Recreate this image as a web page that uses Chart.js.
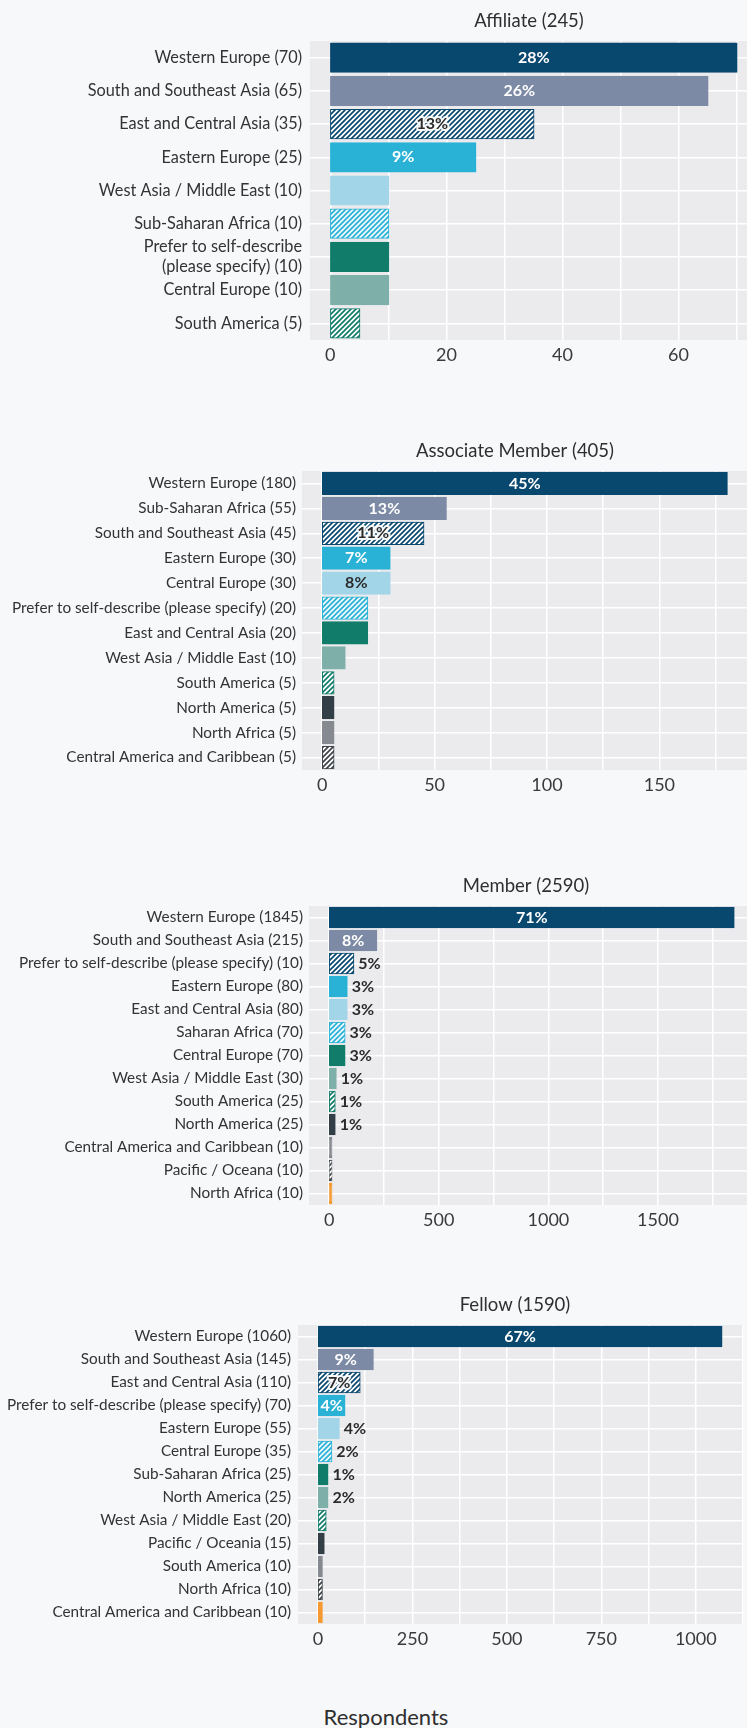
<!DOCTYPE html>
<html>
<head>
<meta charset="utf-8">
<script src="https://cdn.jsdelivr.net/npm/chart.js@4.4.0/dist/chart.umd.min.js"></script>
<style>
  body { margin: 0; background: #f7f8fa; width: 747px; height: 1728px; position: relative; overflow: hidden; font-family: Lato, sans-serif; }
  .panel { position: absolute; left: 0; }
  #xtitle { position: absolute; top: 1704px; left: 386px; transform: translateX(-50%); font-size: 22px; line-height: 26px; color: #2f2f2f; white-space: nowrap; }
</style>
</head>
<body>
<canvas id="affiliate" class="panel" width="747" height="380" style="top:0px"></canvas>
<canvas id="associate" class="panel" width="747" height="380" style="top:430px"></canvas>
<canvas id="member" class="panel" width="747" height="380" style="top:865px"></canvas>
<canvas id="fellow" class="panel" width="747" height="380" style="top:1284px"></canvas>
<div id="xtitle">Respondents</div>
<script>
// data
const affiliateTitle = 'Affiliate (245)';
const affiliateLabels = ['Western Europe (70)', 'South and Southeast Asia (65)', 'East and Central Asia (35)', 'Eastern Europe (25)',
  'West Asia / Middle East (10)', 'Sub-Saharan Africa (10)', ['Prefer to self-describe', '(please specify) (10)'],
  'Central Europe (10)', 'South America (5)'];
const affiliateValues = [70, 65, 35, 25, 10, 10, 10, 10, 5];
const affiliatePct = ['28%', '26%', '13%', '9%', '', '', '', '', ''];

const associateTitle = 'Associate Member (405)';
const associateLabels = ['Western Europe (180)', 'Sub-Saharan Africa (55)', 'South and Southeast Asia (45)', 'Eastern Europe (30)',
  'Central Europe (30)', 'Prefer to self-describe (please specify) (20)', 'East and Central Asia (20)', 'West Asia / Middle East (10)',
  'South America (5)', 'North America (5)', 'North Africa (5)', 'Central America and Caribbean (5)'];
const associateValues = [180, 55, 45, 30, 30, 20, 20, 10, 5, 5, 5, 5];
const associatePct = ['45%', '13%', '11%', '7%', '8%', '', '', '', '', '', '', ''];

const memberTitle = 'Member (2590)';
const memberLabels = ['Western Europe (1845)', 'South and Southeast Asia (215)', 'Prefer to self-describe (please specify) (10)',
  'Eastern Europe (80)', 'East and Central Asia (80)', 'Saharan Africa (70)', 'Central Europe (70)', 'West Asia / Middle East (30)',
  'South America (25)', 'North America (25)', 'Central America and Caribbean (10)', 'Pacific / Oceana (10)', 'North Africa (10)'];
const memberValues = [1845, 215, 110, 80, 80, 70, 70, 30, 25, 25, 10, 10, 10];
const memberPct = ['71%', '8%', '5%', '3%', '3%', '3%', '3%', '1%', '1%', '1%', '', '', ''];

const fellowTitle = 'Fellow (1590)';
const fellowLabels = ['Western Europe (1060)', 'South and Southeast Asia (145)', 'East and Central Asia (110)',
  'Prefer to self-describe (please specify) (70)', 'Eastern Europe (55)', 'Central Europe (35)', 'Sub-Saharan Africa (25)',
  'North America (25)', 'West Asia / Middle East (20)', 'Pacific / Oceania (15)', 'South America (10)', 'North Africa (10)',
  'Central America and Caribbean (10)'];
const fellowValues = [1068, 145, 110, 70, 55, 35, 25, 25, 20, 15, 10, 10, 10];
const fellowPct = ['67%', '9%', '7%', '4%', '4%', '2%', '1%', '2%', '', '', '', '', ''];

// bar look by rank
const barStyles = [
  { fill: '#08476e' },
  { fill: '#7d8aa5' },
  { hatch: '#08476e', base: '#ffffff' },
  { fill: '#29b2d6' },
  { fill: '#a3d5e8', dark: true },
  { hatch: '#29b2d6', base: '#eef8fc' },
  { fill: '#117c6a' },
  { fill: '#7eb0a9' },
  { hatch: '#117c6a', base: '#ffffff' },
  { fill: '#323f46' },
  { fill: '#868a90' },
  { hatch: '#3d4247', base: '#ffffff' },
  { fill: '#f59a32' }
];

function hatch(color, base) {
  const c = document.createElement('canvas');
  c.width = 5; c.height = 5;
  const g = c.getContext('2d');
  g.fillStyle = base;
  g.fillRect(0, 0, 5, 5);
  g.strokeStyle = color;
  g.lineWidth = 1.7;
  g.beginPath();
  g.moveTo(-1, 6); g.lineTo(6, -1);
  g.moveTo(-1, 1); g.lineTo(1, -1);
  g.moveTo(4, 6); g.lineTo(6, 4);
  g.stroke();
  return g.createPattern(c, 'repeat');
}

const fills = barStyles.map(s => s.hatch ? hatch(s.hatch, s.base) : s.fill);
const borders = barStyles.map(s => s.hatch || s.fill);

const plotBg = {
  id: 'plotBg',
  beforeDraw(chart) {
    const { ctx, chartArea: a } = chart;
    ctx.save();
    ctx.fillStyle = '#ebebee';
    ctx.fillRect(a.left, a.top, a.right - a.left, a.bottom - a.top);
    ctx.restore();
  }
};

const panelTitle = {
  id: 'panelTitle',
  afterDraw(chart, args, o) {
    const ctx = chart.ctx;
    ctx.save();
    ctx.font = '18.5px Lato';
    ctx.fillStyle = '#2f2f2f';
    ctx.textAlign = 'center';
    ctx.textBaseline = 'middle';
    ctx.fillText(o.text, o.x, o.y);
    ctx.restore();
  }
};

const pctLabels = {
  id: 'pctLabels',
  afterDatasetsDraw(chart, args, o) {
    const ctx = chart.ctx;
    const meta = chart.getDatasetMeta(0);
    ctx.save();
    ctx.font = 'bold 16px Lato';
    ctx.textBaseline = 'middle';
    meta.data.forEach((bar, i) => {
      const txt = o.texts[i];
      if (!txt) return;
      const w = ctx.measureText(txt).width;
      const len = bar.x - bar.base + 2;
      const st = barStyles[i];
      if (w + 5 <= len) {
        const cx = (bar.x + bar.base) / 2;
        ctx.textAlign = 'center';
        if (st.hatch) {
          ctx.lineWidth = 4;
          ctx.lineJoin = 'round';
          ctx.strokeStyle = 'rgba(255,255,255,0.92)';
          ctx.strokeText(txt, cx, bar.y);
          ctx.fillStyle = '#2b2b2b';
        } else {
          ctx.fillStyle = st.dark ? '#2b2b2b' : '#ffffff';
        }
        ctx.fillText(txt, cx, bar.y);
      } else {
        ctx.textAlign = 'left';
        ctx.fillStyle = '#2b2b2b';
        ctx.fillText(txt, bar.x + 5, bar.y);
      }
    });
    ctx.restore();
  }
};

function makeChart(id, title, labels, values, pct, p) {
  return new Chart(document.getElementById(id), {
    type: 'bar',
    data: {
      labels: labels,
      datasets: [{
        data: values,
        backgroundColor: values.map((v, i) => fills[i]),
        borderColor: values.map((v, i) => borders[i]),
        borderWidth: 1,
        borderSkipped: false,
        inflateAmount: 1,
        barPercentage: 0.85,
        categoryPercentage: 1
      }]
    },
    options: {
      indexAxis: 'y',
      responsive: false,
      animation: false,
      layout: { padding: { top: 41, left: 0, right: 0, bottom: 0 } },
      plugins: {
        legend: { display: false },
        tooltip: { enabled: false },
        panelTitle: { text: title, x: p.titleX, y: 21.5 },
        pctLabels: { texts: pct }
      },
      scales: {
        x: {
          min: p.min,
          max: p.max,
          afterBuildTicks(axis) {
            const t = [];
            for (let v = 0; v <= p.max; v += p.step) t.push({ value: v });
            axis.ticks = t;
          },
          afterFit(axis) { axis.height = 40; },
          grid: { color: '#ffffff', lineWidth: 1.5, drawTicks: false },
          border: { display: false },
          ticks: {
            padding: 4,
            color: '#3a3a3a',
            font: { family: 'Lato', size: 18 },
            maxRotation: 0,
            autoSkip: false,
            callback: v => (v % p.major === 0 ? String(v) : '')
          }
        },
        y: {
          afterFit(axis) { axis.width = p.left; },
          grid: { color: '#ffffff', lineWidth: 1.5, offset: false, drawTicks: false },
          border: { display: false },
          ticks: {
            padding: p.pad,
            color: '#333333',
            autoSkip: false,
            font: { family: 'Lato', size: p.font, lineHeight: 1.2 }
          }
        }
      }
    },
    plugins: [plotBg, panelTitle, pctLabels]
  });
}

makeChart('affiliate', affiliateTitle, affiliateLabels, affiliateValues, affiliatePct,
  { left: 310, pad: 8, font: 16.3, min: -3.5, max: 71.8, step: 10, major: 20, titleX: 529 });
makeChart('associate', associateTitle, associateLabels, associateValues, associatePct,
  { left: 302, pad: 6, font: 15.3, min: -9, max: 189, step: 25, major: 50, titleX: 515 });
makeChart('member', memberTitle, memberLabels, memberValues, memberPct,
  { left: 309, pad: 6, font: 15.3, min: -92, max: 1906, step: 250, major: 500, titleX: 526 });
makeChart('fellow', fellowTitle, fellowLabels, fellowValues, fellowPct,
  { left: 298, pad: 7, font: 15.3, min: -53, max: 1127, step: 125, major: 250, titleX: 515 });
</script>
</body>
</html>
